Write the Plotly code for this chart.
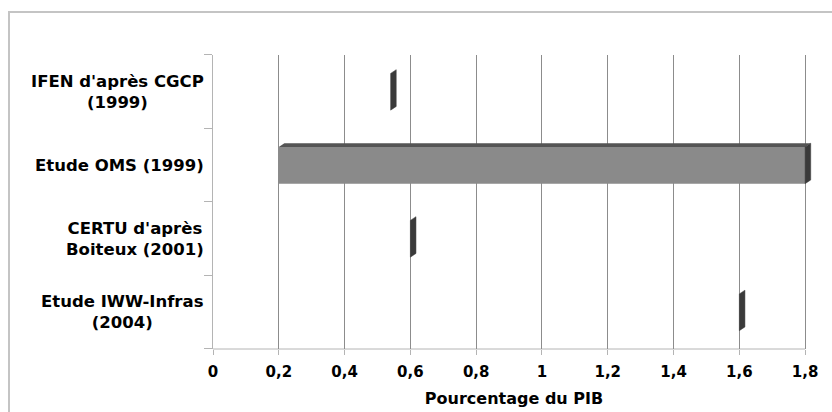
import plotly.graph_objects as go

# ---- data ----
studies = ["IFEN d'après CGCP<br>(1999)", "Etude OMS (1999)",
           "CERTU d'après<br>Boiteux (2001)", "Etude IWW-Infras<br>(2004)"]
low_values = [0.54, 0.2, 0.6, 1.6]
high_values = [0.54, 1.8, 0.6, 1.6]
x_ticks = [0, 0.2, 0.4, 0.6, 0.8, 1.0, 1.2, 1.4, 1.6, 1.8]
x_tick_labels = ["0", "0,2", "0,4", "0,6", "0,8", "1", "1,2", "1,4", "1,6", "1,8"]
x_title = "Pourcentage du PIB"

# ---- style ----
FRONT = "#8a8a8a"
TOP = "#555555"
SIDE = "#3a3a3a"
GRID = "#8c8c8c"
AXIS = "#b4b4b4"
FRAME = "#c4c4c4"
FONT = "DejaVu Sans"
BAR_W = 0.5
DX = 0.017    # 3D depth along x (data units)
DY = 0.05     # 3D depth along y (data units, upwards)
X_MAX = x_ticks[-1]
X_PAD = 0.03  # room for the 3D side face beyond the last tick

positions = list(range(len(studies)))

fig = go.Figure()

# front faces
fig.add_trace(go.Bar(
    y=positions,
    x=[h - l for l, h in zip(low_values, high_values)],
    base=low_values,
    orientation="h",
    width=BAR_W,
    marker=dict(color=FRONT, line=dict(width=0)),
    hoverinfo="skip",
    showlegend=False,
))

for p, l, h in zip(positions, low_values, high_values):
    top = p - BAR_W / 2
    bot = p + BAR_W / 2
    if h > l:
        fig.add_trace(go.Scatter(
            x=[l, h, h + DX, l + DX, l],
            y=[top, top, top - DY, top - DY, top],
            fill="toself", fillcolor=TOP, mode="lines",
            line=dict(width=0, color=TOP), hoverinfo="skip", showlegend=False,
        ))
    fig.add_trace(go.Scatter(
        x=[h, h + DX, h + DX, h, h],
        y=[top, top - DY, bot - DY, bot, top],
        fill="toself", fillcolor=SIDE, mode="lines",
        line=dict(width=0.5, color=SIDE), hoverinfo="skip", showlegend=False,
    ))

# empty trace on the frame axes (outer chart border)
fig.add_trace(go.Scatter(x=[], y=[], xaxis="x2", yaxis="y2",
                         hoverinfo="skip", showlegend=False))

# category labels
for p, s in zip(positions, studies):
    fig.add_annotation(
        x=0, xref="x domain", y=p, yref="y", text=s, showarrow=False,
        xanchor="right", yanchor="middle", align="center", xshift=-7,
        font=dict(family=FONT, size=16.5, color="#000000", weight="bold"),
    )

# x axis line ending at the last tick
fig.add_shape(type="line", xref="x", yref="y domain", x0=0, x1=X_MAX, y0=0, y1=0,
              line=dict(color=AXIS, width=1), layer="below")

fig.update_layout(
    width=832, height=412,
    margin=dict(l=10, r=0, t=13, b=0, autoexpand=False),
    paper_bgcolor="white", plot_bgcolor="rgba(0,0,0,0)",
    showlegend=False,
    xaxis=dict(
        domain=[0.24696, 0.97932],
        range=[0, X_MAX + X_PAD], tickvals=x_ticks, ticktext=x_tick_labels,
        showgrid=True, gridcolor=GRID, gridwidth=1,
        zeroline=False, showline=False, automargin=False,
        ticks="outside", ticklen=5, tickcolor=AXIS,
        ticklabelstandoff=4,
        tickfont=dict(family=FONT, size=15, color="#000000", weight="bold"),
        title=dict(text=x_title, standoff=12,
                   font=dict(family=FONT, size=16, color="#000000", weight="bold")),
        fixedrange=True,
    ),
    yaxis=dict(
        domain=[0.15789, 0.89474],
        range=[3.5, -0.5],
        tickvals=[-0.5, 0.5, 1.5, 2.5, 3.5],
        showticklabels=False,
        showgrid=False, zeroline=False, automargin=False,
        showline=True, linecolor=AXIS, linewidth=1,
        ticks="outside", ticklen=8, tickcolor=AXIS,
        fixedrange=True,
    ),
    xaxis2=dict(
        domain=[0, 1], anchor="y2", side="top", range=[0, 1],
        showline=True, linecolor=FRAME, linewidth=1.5,
        showgrid=False, zeroline=False, showticklabels=False, ticks="",
        automargin=False, fixedrange=True,
    ),
    yaxis2=dict(
        domain=[0, 1], anchor="x2", side="left", range=[0, 1],
        showline=True, linecolor=FRAME, linewidth=1.5,
        showgrid=False, zeroline=False, showticklabels=False, ticks="",
        automargin=False, fixedrange=True,
    ),
)

fig.write_html("out.html")
